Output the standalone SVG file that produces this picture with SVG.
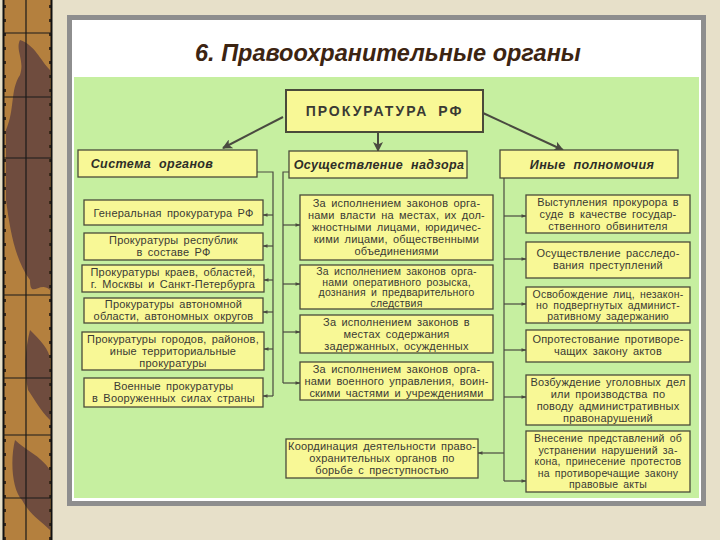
<svg xmlns="http://www.w3.org/2000/svg" width="720" height="540" viewBox="0 0 720 540">
<defs>
<marker id="ah" viewBox="0 0 10 10" refX="9" refY="5" markerWidth="7" markerHeight="5" orient="auto" markerUnits="userSpaceOnUse"><path d="M0,1.5 L10,5 L0,8.5 Z" fill="#4a4a40"/></marker>
<marker id="ab" viewBox="0 0 10 10" refX="9" refY="5" markerWidth="12" markerHeight="10" orient="auto" markerUnits="userSpaceOnUse"><path d="M0,0 L10,5 L0,10 L2.5,5 Z" fill="#4a4a40"/></marker>
<pattern id="tick" width="10" height="14" patternUnits="userSpaceOnUse"><rect x="0" y="5" width="10" height="3" fill="#3b2a1a"/></pattern>
</defs>
<style>
.bx{fill:#f8f896;stroke:#4a4a3a;stroke-width:1.3}
.hd{fill:#f8f896;stroke:#4a4a3a;stroke-width:1.3}
.t{font-family:"Liberation Sans",Arial,sans-serif;font-size:11px;fill:#3a3a34;text-anchor:middle;word-spacing:2px;letter-spacing:0.2px}
.s{font-size:10.5px}
.h{font-family:"Liberation Sans",Arial,sans-serif;font-size:12.5px;font-weight:bold;font-style:italic;fill:#2e2e28;text-anchor:middle;word-spacing:4px;letter-spacing:0.4px}
.c{fill:none;stroke:#4a4a40;stroke-width:1.2}
.big{fill:none;stroke:#4a4a40;stroke-width:2}
</style>
<rect width="720" height="540" fill="#e7e0c9"/>
<g id="strip">
<rect x="3" y="0" width="49" height="540" fill="#b4803e"/>
<path d="M20,40 C35,45 40,60 50,70 L50,290 C40,280 30,300 30,280 C15,260 10,230 6,200 L6,130 C15,110 10,90 20,75 C25,60 15,50 20,40 Z" fill="#6f4c3e"/>
<path d="M30,330 C40,340 50,350 50,360 L50,420 C40,410 35,400 28,390 C24,370 25,350 30,330 Z" fill="#6f4c3e"/>
<path d="M15,440 C25,450 40,455 50,470 L50,530 C40,520 30,515 22,500 C12,490 10,460 15,440 Z" fill="#6f4c3e"/>
<rect x="3" y="0" width="3" height="540" fill="url(#tick)"/>
<rect x="49" y="0" width="3" height="540" fill="url(#tick)"/>
<rect x="3.5" y="-2" width="48" height="544" fill="none" stroke="#111" stroke-width="2"/>
<g stroke="#1a1a1a" stroke-width="1.2">
<line x1="26" y1="0" x2="26" y2="540"/>
<line x1="3" y1="33" x2="52" y2="33"/>
<line x1="3" y1="97" x2="52" y2="97"/>
<line x1="3" y1="158" x2="52" y2="158"/>
<line x1="3" y1="295" x2="52" y2="295"/>
<line x1="3" y1="378" x2="52" y2="378"/>
<line x1="3" y1="435" x2="52" y2="435"/>
<line x1="3" y1="498" x2="52" y2="498"/>
</g>
</g>
<rect x="69.5" y="17.5" width="634" height="486" fill="#ffffff" stroke="#8e8e8e" stroke-width="5"/>
<rect x="74" y="77" width="625" height="421" fill="#c6efa0"/>
<text x="388" y="61" font-family="Liberation Sans,Arial,sans-serif" font-size="23.5" font-weight="bold" font-style="italic" fill="#3c2412" text-anchor="middle">6. Правоохранительные органы</text>

<g id="connectors">
<line class="big" x1="283" y1="117" x2="223" y2="148" marker-end="url(#ab)"/>
<line class="big" x1="378" y1="132" x2="378" y2="151" marker-end="url(#ab)"/>
<line class="big" x1="483" y1="113" x2="563" y2="150" marker-end="url(#ab)"/>
<polyline class="c" points="257,172 273,172 273,396"/>
<line class="c" x1="273" y1="215" x2="263" y2="215" marker-end="url(#ah)"/>
<line class="c" x1="273" y1="246" x2="263" y2="246" marker-end="url(#ah)"/>
<line class="c" x1="273" y1="280" x2="264" y2="280" marker-end="url(#ah)"/>
<line class="c" x1="273" y1="312" x2="263" y2="312" marker-end="url(#ah)"/>
<line class="c" x1="273" y1="349" x2="264" y2="349" marker-end="url(#ah)"/>
<line class="c" x1="273" y1="396" x2="263" y2="396" marker-end="url(#ah)"/>
<polyline class="c" points="289,172 283,172 283,383"/>
<line class="c" x1="283" y1="225" x2="300" y2="225" marker-end="url(#ah)"/>
<line class="c" x1="283" y1="284" x2="300" y2="284" marker-end="url(#ah)"/>
<line class="c" x1="283" y1="332" x2="300" y2="332" marker-end="url(#ah)"/>
<line class="c" x1="283" y1="383" x2="300" y2="383" marker-end="url(#ah)"/>
<line class="c" x1="504" y1="178" x2="504" y2="481"/>
<line class="c" x1="504" y1="216" x2="526" y2="216" marker-end="url(#ah)"/>
<line class="c" x1="504" y1="259" x2="526" y2="259" marker-end="url(#ah)"/>
<line class="c" x1="504" y1="304" x2="526" y2="304" marker-end="url(#ah)"/>
<line class="c" x1="504" y1="350" x2="526" y2="350" marker-end="url(#ah)"/>
<line class="c" x1="504" y1="397" x2="526" y2="397" marker-end="url(#ah)"/>
<line class="c" x1="504" y1="481" x2="526" y2="481" marker-end="url(#ah)"/>
<line class="c" x1="504" y1="453" x2="478" y2="453" marker-end="url(#ah)"/>
</g>

<g id="prokuratura">
<rect x="286" y="90" width="197" height="42" fill="#f8f896" stroke="#4a4a3a" stroke-width="2"/>
<text x="384.5" y="116" font-family="Liberation Sans,Arial,sans-serif" font-size="14" font-weight="bold" fill="#3a3a34" text-anchor="middle" letter-spacing="2" word-spacing="4">ПРОКУРАТУРА РФ</text>
</g>

<g id="h-sistema"><rect class="hd" x="78" y="150" width="179" height="27"/><text class="h" x="152" y="168">Система органов</text></g>
<g id="h-nadzor"><rect class="hd" x="289" y="151" width="178" height="27"/><text class="h" x="379" y="169">Осуществление надзора</text></g>
<g id="h-inye"><rect class="hd" x="500" y="150" width="178" height="28"/><text class="h" x="592" y="169">Иные полномочия</text></g>

<g id="l1"><rect class="bx" x="84" y="200" width="179" height="25"/><text class="t" x="173.5" y="216.5">Генеральная прокуратура РФ</text></g>
<g id="l2"><rect class="bx" x="84" y="233" width="179" height="27"/><text class="t" x="173.5" y="244">Прокуратуры республик</text><text class="t" x="173.5" y="256">в составе РФ</text></g>
<g id="l3"><rect class="bx" x="82" y="265" width="182" height="27"/><text class="t" x="173" y="276">Прокуратуры краев, областей,</text><text class="t" x="173" y="288">г. Москвы и Санкт-Петербурга</text></g>
<g id="l4"><rect class="bx" x="84" y="298" width="179" height="25"/><text class="t" x="173.5" y="308">Прокуратуры автономной</text><text class="t" x="173.5" y="320">области, автономных округов</text></g>
<g id="l5"><rect class="bx" x="82" y="332" width="182" height="38"/><text class="t" x="173" y="343">Прокуратуры городов, районов,</text><text class="t" x="173" y="355">иные территориальные</text><text class="t" x="173" y="367">прокуратуры</text></g>
<g id="l6"><rect class="bx" x="84" y="378" width="179" height="29"/><text class="t" x="173.5" y="390">Военные прокуратуры</text><text class="t" x="173.5" y="402">в Вооруженных силах страны</text></g>

<g id="m1"><rect class="bx" x="300" y="195" width="193" height="65"/><text class="t" x="396.5" y="207">За исполнением законов орга-</text><text class="t" x="396.5" y="219">нами власти на местах, их дол-</text><text class="t" x="396.5" y="231">жностными лицами, юридичес-</text><text class="t" x="396.5" y="243">кими лицами, общественными</text><text class="t" x="396.5" y="255">объединениями</text></g>
<g id="m2"><rect class="bx" x="300" y="265" width="193" height="44"/><text class="t s" x="396.5" y="275">За исполнением законов орга-</text><text class="t s" x="396.5" y="285.5">нами оперативного розыска,</text><text class="t s" x="396.5" y="296">дознания и предварительного</text><text class="t s" x="396.5" y="306.5">следствия</text></g>
<g id="m3"><rect class="bx" x="300" y="315" width="193" height="38"/><text class="t" x="396.5" y="326">За исполнением законов в</text><text class="t" x="396.5" y="338">местах содержания</text><text class="t" x="396.5" y="350">задержанных, осужденных</text></g>
<g id="m4"><rect class="bx" x="300" y="362" width="193" height="38"/><text class="t" x="396.5" y="373">За исполнением законов орга-</text><text class="t" x="396.5" y="385">нами военного управления, воин-</text><text class="t" x="396.5" y="397">скими частями и учреждениями</text></g>

<g id="coord"><rect class="bx" x="286" y="439" width="192" height="39"/><text class="t" x="382" y="450">Координация деятельности право-</text><text class="t" x="382" y="462">охранительных органов по</text><text class="t" x="382" y="474">борьбе с преступностью</text></g>

<g id="r1"><rect class="bx" x="526" y="195" width="164" height="38"/><text class="t" x="608" y="206">Выступления прокурора в</text><text class="t" x="608" y="218">суде в качестве государ-</text><text class="t" x="608" y="230">ственного обвинителя</text></g>
<g id="r2"><rect class="bx" x="526" y="242" width="164" height="36"/><text class="t" x="608" y="257">Осуществление расследо-</text><text class="t" x="608" y="269">вания преступлений</text></g>
<g id="r3"><rect class="bx" x="526" y="287" width="164" height="36"/><text class="t s" x="608" y="298">Освобождение лиц, незакон-</text><text class="t s" x="608" y="309">но подвергнутых админист-</text><text class="t s" x="608" y="320">ративному задержанию</text></g>
<g id="r4"><rect class="bx" x="526" y="330" width="164" height="32"/><text class="t" x="608" y="343">Опротестование противоре-</text><text class="t" x="608" y="355">чащих закону актов</text></g>
<g id="r5"><rect class="bx" x="526" y="375" width="164" height="50"/><text class="t" x="608" y="386">Возбуждение уголовных дел</text><text class="t" x="608" y="398">или производства по</text><text class="t" x="608" y="410">поводу административных</text><text class="t" x="608" y="422">правонарушений</text></g>
<g id="r6"><rect class="bx" x="526" y="431" width="164" height="61"/><text class="t s" x="608" y="442">Внесение представлений об</text><text class="t s" x="608" y="453.5">устранении нарушений за-</text><text class="t s" x="608" y="465">кона, принесение протестов</text><text class="t s" x="608" y="476.5">на противоречащие закону</text><text class="t s" x="608" y="488">правовые акты</text></g>
</svg>
